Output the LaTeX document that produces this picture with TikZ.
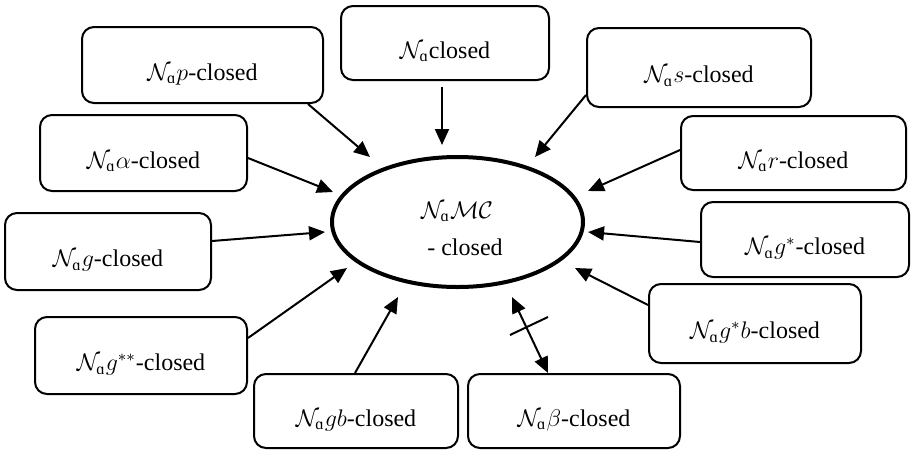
\documentclass[tikz,border=0pt]{standalone}
\usepackage{amsmath}
\usepackage{fontspec}
\setmainfont{Liberation Serif}
\usetikzlibrary{arrows.meta,shapes.geometric}
\newcommand{\NNa}{\mathcal{N}_{\text{ɑ}}}
\begin{document}
\begin{tikzpicture}[x=0.5pt,y=-0.5pt,
  font=\fontsize{12}{14}\selectfont,
  box/.style={draw, line width=1pt, rounded corners=6pt, text height=15pt, text depth=0pt, inner sep=0pt},
  arr/.style={line width=1pt, -{Triangle[length=8pt,width=7pt]}},
  darr/.style={line width=1pt, {Triangle[length=8pt,width=7pt]}-{Triangle[length=8pt,width=7pt]}},
  tick/.style={line width=1pt}]
\useasboundingbox (0,0) rectangle (911,451);

% boxes
\node[box, minimum width=104pt, minimum height=37pt]   (c0)  at (445,43)    {$\NNa$closed};
\node[box, minimum width=120.5pt, minimum height=38pt] (p)   at (202.5,65)  {$\NNa p$-closed};
\node[box, minimum width=112pt, minimum height=39.5pt] (s)   at (699,67.5)  {$\NNa s$-closed};
\node[box, minimum width=103.5pt, minimum height=38pt] (al)  at (143.5,153) {$\NNa \alpha$-closed};
\node[box, minimum width=112.5pt, minimum height=37pt] (r)   at (793.5,153) {$\NNa r$-closed};
\node[box, minimum width=103pt, minimum height=38.5pt] (g)   at (108,251.5) {$\NNa g$-closed};
\node[box, minimum width=104pt, minimum height=37.5pt] (gs)  at (805,239.5) {$\NNa g^{*}$-closed};
\node[box, minimum width=106pt, minimum height=39.5pt] (gsb) at (755,323.5) {$\NNa g^{*}b$-closed};
\node[box, minimum width=106pt, minimum height=38.5pt] (gss) at (141,355.5) {$\NNa g^{**}$-closed};
\node[box, minimum width=102pt, minimum height=37pt]   (gb)  at (356,411)   {$\NNa gb$-closed};
\node[box, minimum width=106pt, minimum height=37pt]   (be)  at (574,411)   {$\NNa \beta$-closed};

% central ellipse
\node[draw, ellipse, line width=2pt, inner sep=0pt, minimum width=125.5pt, minimum height=65pt] (E) at (457.5,222) {};
\node (e1) at (457,212) {$\NNa\mathcal{M}\mathcal{C}$};
\node (e2) at (465,247) {- closed};

% arrow tips (free ends)
\coordinate (tc0)  at (442,145);
\coordinate (tp)   at (370,157);
\coordinate (tal)  at (333,192);
\coordinate (tg)   at (325,232);
\coordinate (tgss) at (347,268);
\coordinate (tgb)  at (398,297);
\coordinate (ts)   at (535,157);
\coordinate (tr)   at (588,191);
\coordinate (tgs)  at (588,232);
\coordinate (tgsb) at (575,268);
\coordinate (tbe)  at (512,297);
\coordinate (x1)   at (510,335);
\coordinate (x2)   at (548,317);

% connectors
\draw[arr] ([xshift=-1.5pt,yshift=-3pt]c0.south) -- (tc0);
\draw[arr] ([xshift=52.75pt]p.south) -- (tp);
\draw[arr] ([yshift=-2.5pt]al.east) -- (tal);
\draw[arr] ([yshift=5.25pt]g.east) -- (tg);
\draw[arr] ([yshift=8.75pt]gss.east) -- (tgss);
\draw[arr] ([xshift=-0.5pt]gb.north) -- (tgb);
\draw[arr] ([yshift=-13.75pt]s.west) -- (ts);
\draw[arr] ([yshift=1.5pt]r.west) -- (tr);
\draw[arr] ([yshift=-1.25pt]gs.west) -- (tgs);
\draw[arr] ([yshift=9.25pt]gsb.west) -- (tgsb);
\draw[darr] (tbe) -- ([xshift=-13pt]be.north);
\draw[tick] (x1) -- (x2);
\end{tikzpicture}
\end{document}
